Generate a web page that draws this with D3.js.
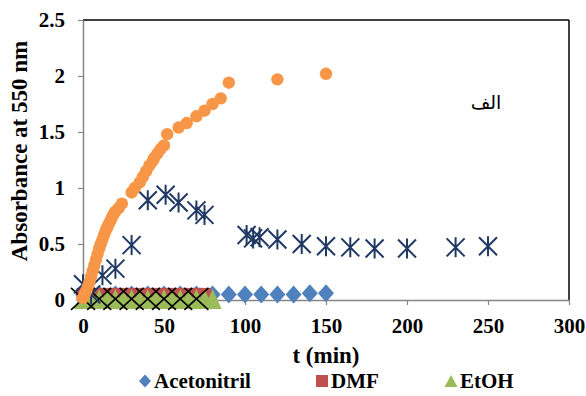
<!DOCTYPE html>
<html>
<head>
<meta charset="utf-8">
<script src="https://cdn.jsdelivr.net/npm/d3@7"></script>
<style>
  body { margin: 0; background: #fff; }
  svg text { font-family: "Liberation Serif", "Times New Roman", "DejaVu Serif", serif !important; font-weight: bold; fill: #000; }
  svg text.ar { font-family: "DejaVu Sans", sans-serif !important; font-weight: normal; }
</style>
</head>
<body>
<div id="chart"></div>
<script>
// series (t in min, absorbance)
const acnT = [0, 10, 20, 30, 40, 50, 60, 70, 80, 90, 100, 110, 120, 130, 140, 150];
const acnA = [0.05, 0.05, 0.05, 0.05, 0.05, 0.05, 0.05, 0.05, 0.05, 0.05, 0.05, 0.05, 0.05, 0.05, 0.06, 0.06];

const dmfT = [0, 5, 10, 15, 20, 25, 30, 35, 40, 45, 50, 55, 60, 65, 70, 75];
const dmfA = [0.05, 0.05, 0.05, 0.05, 0.05, 0.05, 0.05, 0.05, 0.05, 0.05, 0.05, 0.05, 0.05, 0.05, 0.05, 0.05];

const etohT = [0, 5, 10, 15, 20, 25, 30, 35, 40, 45, 50, 55, 60, 65, 70, 75, 80];
const etohA = [0.01, 0.01, 0.01, 0.01, 0.01, 0.01, 0.01, 0.01, 0.01, 0.01, 0.01, 0.01, 0.01, 0.01, 0.01, 0.01, 0.01];

const crossT = [0, 10, 20, 30, 40, 50, 60, 70];
const crossA = [0.01, 0.01, 0.01, 0.01, 0.01, 0.01, 0.01, 0.01];

const starT = [0, 5, 12, 20, 30, 40, 51, 59, 70, 75, 101, 105, 109, 120, 135, 150, 165, 180, 200, 230, 250];
const starA = [0.14, 0.05, 0.22, 0.28, 0.49, 0.89, 0.94, 0.87, 0.80, 0.76, 0.58, 0.55, 0.56, 0.54, 0.50, 0.48, 0.47, 0.46, 0.46, 0.47, 0.48];

const orangeT = [0, 1, 2, 3, 4, 5, 6, 7, 8, 9, 10, 11, 12, 13, 14, 15, 16, 17, 18, 19, 20, 22, 24,
                 30, 32, 35, 37, 39, 41, 43, 44, 46, 48, 50, 52, 59, 64, 70, 75, 80, 85, 90, 120, 150];
const orangeA = [0.02, 0.05, 0.08, 0.12, 0.16, 0.21, 0.26, 0.31, 0.36, 0.41, 0.46, 0.50, 0.54, 0.58, 0.62, 0.65, 0.68, 0.71, 0.74, 0.77, 0.79, 0.82, 0.86,
                 0.96, 1.0, 1.05, 1.10, 1.15, 1.20, 1.24, 1.27, 1.31, 1.35, 1.38, 1.48, 1.54, 1.58, 1.64, 1.69, 1.75, 1.80, 1.94, 1.97, 2.02];

const xTicks = [0, 50, 100, 150, 200, 250, 300];
const yTicks = [0, 0.5, 1, 1.5, 2, 2.5];
const legendNames = ["Acetonitril", "DMF", "EtOH"];

const W = 586, H = 396;
const plot = {l: 83, r: 569, t: 20, b: 300};

const svg = d3.select("#chart").append("svg")
    .attr("width", W).attr("height", H);
svg.append("rect").attr("width", W).attr("height", H).attr("fill", "#fff");

const x = d3.scaleLinear().domain([0, 300]).range([plot.l, plot.r]);
const y = d3.scaleLinear().domain([0, 2.5]).range([plot.b, plot.t]);

// frame: grey axes, black top/right
svg.append("line").attr("x1", plot.l).attr("x2", plot.r).attr("y1", plot.t).attr("y2", plot.t)
    .attr("stroke", "#000").attr("stroke-width", 1.5);
svg.append("line").attr("x1", plot.r).attr("x2", plot.r).attr("y1", plot.t).attr("y2", plot.b)
    .attr("stroke", "#000").attr("stroke-width", 1.5);

let gx = svg.append("g").attr("transform", `translate(0,${plot.b})`)
    .call(d3.axisBottom(x).tickValues(xTicks).tickSize(5).tickPadding(13).tickSizeOuter(0));
let gy = svg.append("g").attr("transform", `translate(${plot.l},0)`)
    .call(d3.axisLeft(y).tickValues(yTicks).tickSize(5).tickPadding(13).tickSizeOuter(0).tickFormat(d3.format("")));
[gx, gy].forEach(g => {
    g.attr("font-family", null).attr("font-size", null);
    g.select(".domain").attr("stroke", "#868686").attr("stroke-width", 1.5);
    g.selectAll(".tick line").attr("stroke", "#868686").attr("stroke-width", 1.2);
    g.selectAll("text").attr("font-size", 21).attr("fill", "#000");
});

// marker shapes
const diamond = (w, h) => `M0,${-h/2}L${w/2},0L0,${h/2}L${-w/2},0Z`;
const tri = (w, h) => `M0,${-h/2}L${w/2},${h/2}L${-w/2},${h/2}Z`;
const zip = (a, b) => a.map((d, i) => [d, b[i]]);

let marks = svg.append("g");

marks.selectAll(".acn").data(zip(acnT, acnA)).enter().append("path")
    .attr("d", diamond(16, 18))
    .attr("transform", d => `translate(${x(d[0])},${y(d[1])})`)
    .attr("fill", "#4F81BD");

marks.selectAll(".dmf").data(zip(dmfT, dmfA)).enter().append("rect")
    .attr("x", d => x(d[0]) - 6.5).attr("y", d => y(d[1]) - 6.5)
    .attr("width", 13).attr("height", 13)
    .attr("fill", "#C0504D");

marks.selectAll(".etoh").data(zip(etohT, etohA)).enter().append("path")
    .attr("d", tri(18, 20))
    .attr("transform", d => `translate(${x(d[0])},${y(d[1])})`)
    .attr("fill", "#9BBB59");

marks.selectAll(".cross").data(zip(crossT, crossA)).enter().append("path")
    .attr("d", "M-12,-11L12,11M-12,11L12,-11")
    .attr("transform", d => `translate(${x(d[0])},${y(d[1])})`)
    .attr("stroke", "#000").attr("stroke-width", 1.6).attr("fill", "none");

marks.selectAll(".star").data(zip(starT, starA)).enter().append("path")
    .attr("d", "M-9,-9L9,9M-9,9L9,-9M0,-10L0,10")
    .attr("transform", d => `translate(${x(d[0])},${y(d[1])})`)
    .attr("stroke", "#1F3864").attr("stroke-width", 2).attr("fill", "none");

marks.selectAll(".orange").data(zip(orangeT, orangeA)).enter().append("circle")
    .attr("cx", d => x(d[0])).attr("cy", d => y(d[1])).attr("r", 6.2)
    .attr("fill", "#F79646");

// axis titles
svg.append("text").attr("x", (plot.l + plot.r) / 2).attr("y", 363)
    .attr("text-anchor", "middle").attr("font-size", 23).text("t (min)");
svg.append("text").attr("transform", "translate(27,151) rotate(-90)")
    .attr("text-anchor", "middle").attr("font-size", 23).text("Absorbance at 550 nm");

// arabic label
svg.append("text").attr("class", "ar").attr("x", 486).attr("y", 109)
    .attr("text-anchor", "middle")
    .attr("font-size", 19).text("الف");

// legend
const legX = [145, 322, 451];
const legColors = ["#4F81BD", "#C0504D", "#9BBB59"];
const legY = 381;
let legend = svg.append("g");
legend.append("path").attr("d", diamond(12, 13)).attr("transform", `translate(${legX[0]},${legY})`).attr("fill", legColors[0]);
legend.append("rect").attr("x", legX[1] - 6).attr("y", legY - 6).attr("width", 12).attr("height", 12).attr("fill", legColors[1]);
legend.append("path").attr("d", tri(13, 12)).attr("transform", `translate(${legX[2]},${legY})`).attr("fill", legColors[2]);
legendNames.forEach((n, i) => {
    legend.append("text").attr("x", legX[i] + 9).attr("y", legY + 7)
        .attr("font-size", 21).text(n);
});
</script>
</body>
</html>
